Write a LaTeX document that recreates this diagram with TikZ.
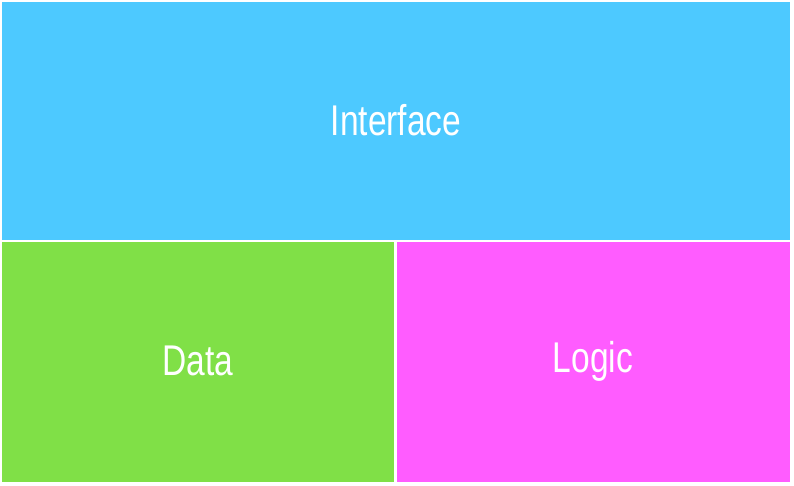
\documentclass[tikz,border=0pt]{standalone}
\usepackage{fontspec}
\setmainfont[FakeStretch=0.78]{Liberation Sans}
\definecolor{ifaceblue}{HTML}{4DC9FF}
\definecolor{datagreen}{HTML}{80E047}
\definecolor{logicpink}{HTML}{FF5CFF}
\tikzset{label text/.style={text=white, font=\fontsize{43}{43}\selectfont}}

\begin{document}
\begin{tikzpicture}[x=1pt, y=-1pt]
		%%%%% START %%%%%
		\useasboundingbox (0, 0) rectangle (794, 486);
		
		\fill[ifaceblue] (2, 2) rectangle (790, 240);
		\fill[datagreen] (2, 242) rectangle (394, 482);
		\fill[logicpink] (397, 242) rectangle (790, 482);
		
		\node[label text] (iface) at (396, 120) {Interface};
		\node[label text] (data) at (198, 361) {Data};
		\node[label text] (logic) at (593, 361) {Logic};
		
		%%%%% END %%%%%
	\end{tikzpicture}
\end{document}
